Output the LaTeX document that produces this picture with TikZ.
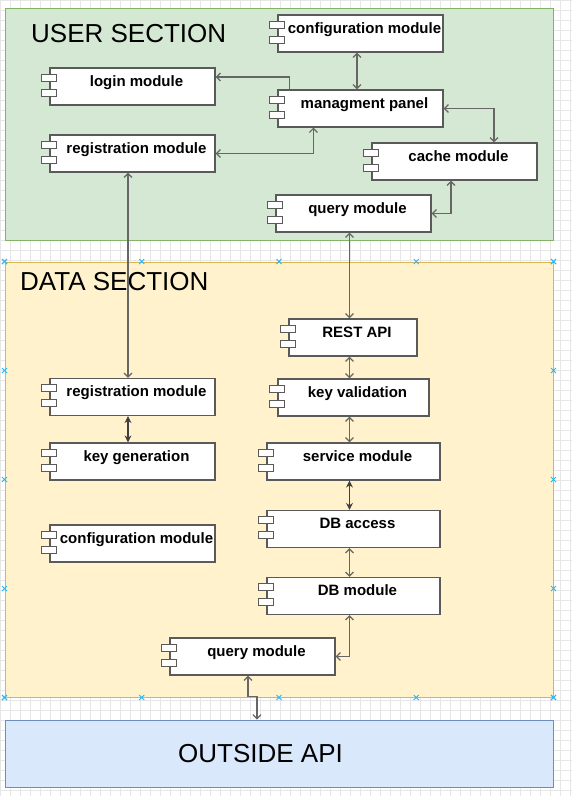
\documentclass[tikz,border=0pt]{standalone}
\usepackage{fontspec}
\setmainfont{Liberation Sans}
\usetikzlibrary{arrows.meta,calc}

\definecolor{userFill}{HTML}{D5E8D4}
\definecolor{userLine}{HTML}{82B366}
\definecolor{dataFill}{HTML}{FFF2CC}
\definecolor{dataLine}{HTML}{D6B656}
\definecolor{apiFill}{HTML}{DAE8FC}
\definecolor{apiLine}{HTML}{6C8EBF}
\definecolor{compLine}{HTML}{5A5A5A}
\definecolor{arrowLine}{HTML}{666666}
\definecolor{handleBlue}{HTML}{29B6F2}
\definecolor{gridGray}{HTML}{E6E6E6}

\begin{document}
\begin{tikzpicture}[x=1pt, y=-1pt,
    gridLine/.style={draw=gridGray, line width=0.6pt},
    secBox/.style={draw, line width=1pt, minimum width=548pt, inner sep=0pt},
    secTitle/.style={anchor=base west, inner sep=0pt, font=\fontsize{26}{30}\selectfont},
    compBox/.style={draw=compLine, fill=white, line width=1.2pt, minimum width=165pt,
        inner xsep=0pt, inner ysep=0pt, text height=18pt, text depth=19pt,
        font=\bfseries\fontsize{15}{18}\selectfont, execute at begin node={\hspace*{8pt}}},
    compPort/.style={draw=compLine, fill=white, line width=0.9pt},
    compArrow/.style={draw=arrowLine, line width=1.2pt, >={Straight Barb[length=4pt,width=8pt]}},
    compArrowDark/.style={draw=black!75, line width=1.2pt, >={Stealth[length=7pt,width=7pt]}},
    handleMark/.style={draw=handleBlue, line width=1pt}]

    \useasboundingbox (0,0) rectangle (572,796);
    \draw[gridLine, step=10pt] (0,0) grid (572,796);

    \node[secBox, fill=userFill, draw=userLine, minimum height=232pt] (userSec) at (279,124) {};
    \node[secBox, fill=dataFill, draw=dataLine, minimum height=435pt] (dataSec) at (279,479.5) {};
    \node[secBox, fill=apiFill, draw=apiLine, minimum height=67pt] (outsideApi) at (279,753.5) {};

    \node[secTitle] (userTitle) at (31,42) {USER SECTION};
    \node[secTitle] (dataTitle) at (20,290) {DATA SECTION};
    \node[secTitle] (outsideTitle) at (178,762) {OUTSIDE API};

    \node[compBox] (login) at (132.5,86.5) {login module};
    \node[compBox] (regU) at (132.5,153.5) {registration module};
    \node[compBox] (confU) at (360.5,33.5) {configuration module};
    \node[compBox] (panel) at (360.5,108.5) {managment panel};
    \node[compBox] (cache) at (454.5,161.5) {cache module};
    \node[compBox, minimum width=155pt] (queryU) at (353.5,213.5) {query module};

    \node[compBox, minimum width=128pt] (rest) at (353,337.5) {REST API};
    \node[compBox, minimum width=151pt] (keyVal) at (353.5,397.5) {key validation};
    \node[compBox, minimum width=173pt] (service) at (353.5,461.5) {service module};
    \node[compBox, minimum width=173pt] (dbAccess) at (353.5,529) {DB access};
    \node[compBox, minimum width=173pt] (dbModule) at (353.5,596) {DB module};
    \node[compBox] (regD) at (132.5,397) {registration module};
    \node[compBox] (keyGen) at (132.5,461.5) {key generation};
    \node[compBox] (confD) at (132.5,543.5) {configuration module};
    \node[compBox] (queryD) at (252.5,656.5) {query module};

    \foreach \n in {login,regU,confU,panel,cache,queryU,rest,keyVal,service,dbAccess,dbModule,regD,keyGen,confD,queryD} {
        \draw[compPort] ([xshift=-8pt,yshift=-7pt]\n.north west) rectangle ++(15,7);
        \draw[compPort] ([xshift=-8pt,yshift=-22pt]\n.north west) rectangle ++(15,7);
    }

    \draw[compArrow, ->] ([xshift=12pt]panel.north west) |- ([yshift=9.5pt]login.east);
    \draw[compArrow, <->] ([xshift=36pt]panel.south west) |- (regU.east);
    \draw[compArrow, <->] ([xshift=-3.5pt]confU.south) -- ([xshift=-3.5pt]panel.north);
    \draw[compArrow, <->] (panel.east) -| ([xshift=39.5pt]cache.north);
    \draw[compArrow, <->] ([xshift=-3.5pt]cache.south) |- (queryU.east);
    \draw[compArrow, <->] ([xshift=-4pt]queryU.south) -- ([xshift=-3.5pt]rest.north);
    \draw[compArrow, <->] ([xshift=-4.5pt]regU.south) -- ([xshift=-4.5pt]regD.north);

    \draw[compArrowDark, <->] ([xshift=-4.5pt]regD.south) -- ([xshift=-4.5pt]keyGen.north);
    \draw[compArrow, <->] ([xshift=-3.5pt]rest.south) -- ([xshift=-4pt]keyVal.north);
    \draw[compArrow, <->] ([xshift=-4pt]keyVal.south) -- ([xshift=-4pt]service.north);
    \draw[compArrowDark, <->] ([xshift=-4pt]service.south) -- ([xshift=-4pt]dbAccess.north);
    \draw[compArrow, <->] ([xshift=-4pt]dbAccess.south) -- ([xshift=-4pt]dbModule.north);
    \draw[compArrow, <->] ([xshift=-4pt]dbModule.south) |- (queryD.east);
    \draw[compArrow, <->] ([xshift=-4.5pt]queryD.south) |- ([xshift=-22pt,yshift=23pt]outsideApi.north) -- ([xshift=-22pt]outsideApi.north);

    \foreach \f in {0,0.25,0.5,0.75,1} {
        \draw[handleMark] ($(dataSec.north west)!\f!(dataSec.north east)$) +(-2.5,-2.5) -- +(2.5,2.5) +(-2.5,2.5) -- +(2.5,-2.5);
        \draw[handleMark] ($(dataSec.south west)!\f!(dataSec.south east)$) +(-2.5,-2.5) -- +(2.5,2.5) +(-2.5,2.5) -- +(2.5,-2.5);
        \draw[handleMark] ($(dataSec.north west)!\f!(dataSec.south west)$) +(-2.5,-2.5) -- +(2.5,2.5) +(-2.5,2.5) -- +(2.5,-2.5);
        \draw[handleMark] ($(dataSec.north east)!\f!(dataSec.south east)$) +(-2.5,-2.5) -- +(2.5,2.5) +(-2.5,2.5) -- +(2.5,-2.5);
    }
\end{tikzpicture}
\end{document}
